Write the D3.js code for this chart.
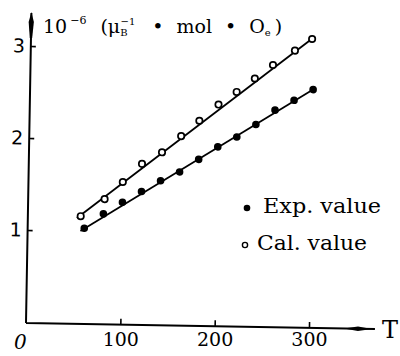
<!DOCTYPE html>
<html>
<head>
<meta charset="utf-8">
<script src="https://cdn.jsdelivr.net/npm/d3@7"></script>
<style>
  body { margin: 0; background: #fff; }
  svg { display: block; }
  .tick line { stroke: #000; stroke-width: 1.6; }
</style>
</head>
<body>
<script>
// values
var expTemps = [60, 80, 100, 120, 140, 160, 180, 200, 220, 240, 260, 280, 300];
var expValues = [1.03, 1.19, 1.32, 1.44, 1.56, 1.66, 1.80, 1.94, 2.05, 2.19, 2.35, 2.46, 2.58];
var calTemps = [56, 81, 100, 120, 141, 161, 180, 200, 219, 238, 257, 280, 298];
var calValues = [1.16, 1.35, 1.54, 1.74, 1.87, 2.05, 2.22, 2.40, 2.54, 2.69, 2.84, 3.00, 3.13];
// straight lines drawn through each set
var expFitTemps = [56, 303];
var expFitValues = [1.00, 2.60];
var calFitTemps = [52, 300];
var calFitValues = [1.14, 3.15];
var xTicks = [100, 200, 300];
var yTicks = [1, 2, 3];
var legendLabels = ["Exp. value", "Cal. value"];

var margin = {top: 46, left: 26}
  , width = 283
  , height = 277;

var svg = d3.select("body").append("svg")
    .attr("width", 400)
    .attr("height", 356);

// the scan is tilted a little, so the plot group is turned about the origin
var g = svg.append("g")
    .attr("transform", "translate(" + margin.left + "," + margin.top + ") rotate(1,0," + height + ")");

var xScale = d3.scaleLinear()
    .domain([0, 300])
    .range([0, width]);

var yScale = d3.scaleLinear()
    .domain([0, 3])
    .range([height - 1, 0]);

var serif = "'DejaVu Serif', serif";

// x axis
var xAxis = g.append("g")
    .attr("transform", "translate(0," + height + ")")
    .call(d3.axisBottom(xScale).tickValues(xTicks).tickSizeInner(-6).tickSizeOuter(0).tickPadding(9));
xAxis.select(".domain").remove();
xAxis.selectAll("text")
    .attr("transform", function(d) { return "rotate(-1," + 0 + ",0) translate(0," + (-d * 0.016) + ")"; })
    .style("font-family", serif)
    .style("font-size", "19px")
    .attr("fill", "#000");

// y axis
var yAxis = g.append("g")
    .call(d3.axisLeft(yScale).tickValues(yTicks).tickFormat(d3.format("d")).tickSizeInner(-5).tickSizeOuter(0).tickPadding(6));
yAxis.select(".domain").remove();
yAxis.selectAll("text")
    .style("font-family", "'DejaVu Sans', sans-serif")
    .style("font-size", "19px")
    .attr("fill", "#000");

// axis lines with their spindle arrows
g.append("path")
    .attr("d", "M0," + height + "H349M0," + height + "V-33")
    .attr("fill", "none")
    .attr("stroke", "#000")
    .attr("stroke-width", 2);
g.append("path")
    .attr("d", "M318," + height + "L332," + (height - 2.2) + "L346," + height + "L332," + (height + 2.2) + "Z")
    .attr("fill", "#000");
g.append("path")
    .attr("d", "M0,-34L2.6,-24L1.2,-8L-1.2,-8L-2.6,-24Z")
    .attr("fill", "#000");

var line = d3.line()
    .x(function(d) { return xScale(d[0]); })
    .y(function(d) { return yScale(d[1]); });

g.append("path")
    .datum(d3.zip(calFitTemps, calFitValues))
    .attr("d", line)
    .attr("fill", "none")
    .attr("stroke", "#000")
    .attr("stroke-width", 1.8);

g.append("path")
    .datum(d3.zip(expFitTemps, expFitValues))
    .attr("d", line)
    .attr("fill", "none")
    .attr("stroke", "#000")
    .attr("stroke-width", 1.8);

g.selectAll(".cal")
    .data(d3.zip(calTemps, calValues))
    .enter()
    .append("circle")
    .attr("class", "cal")
    .attr("cx", function(d) { return xScale(d[0]); })
    .attr("cy", function(d) { return yScale(d[1]); })
    .attr("r", 3.2)
    .attr("fill", "#fff")
    .attr("stroke", "#000")
    .attr("stroke-width", 1.7);

g.selectAll(".exp")
    .data(d3.zip(expTemps, expValues))
    .enter()
    .append("circle")
    .attr("class", "exp")
    .attr("cx", function(d) { return xScale(d[0]); })
    .attr("cy", function(d) { return yScale(d[1]); })
    .attr("r", 3.8)
    .attr("fill", "#000");

// free texts, placed on the page
svg.append("text")
    .attr("x", 14)
    .attr("y", 349)
    .style("font-family", serif)
    .style("font-size", "20px")
    .style("font-style", "italic")
    .text("0");

svg.append("text")
    .attr("x", 382)
    .attr("y", 338)
    .style("font-family", serif)
    .style("font-size", "24px")
    .text("T");

var title = svg.append("text")
    .attr("x", 43)
    .attr("y", 33)
    .style("font-family", serif)
    .style("font-size", "19px");
title.append("tspan").text("10");
title.append("tspan").attr("dx", 3).attr("dy", -9).style("font-size", "11px").text("\u22126");
title.append("tspan").attr("dx", 14).attr("dy", 9).text("(\u03bc");
title.append("tspan").attr("dy", 3).style("font-size", "10px").text("B");
title.append("tspan").attr("dx", -7).attr("dy", -11).style("font-size", "10px").text("\u22121");
title.append("tspan").attr("dx", 17).attr("dy", 8).text("\u2022");
title.append("tspan").attr("dx", 13).text("mol");
title.append("tspan").attr("dx", 13).text("\u2022");
title.append("tspan").attr("dx", 13).text("O");
title.append("tspan").attr("dy", 3).style("font-size", "10px").text("e");
title.append("tspan").attr("dx", 4).attr("dy", -3).text(")");

// legend
var legend = svg.selectAll(".legend")
    .data(legendLabels)
    .enter()
    .append("g")
    .attr("class", "legend")
    .attr("transform", function(d, i) { return "translate(0," + (i * 37) + ")"; });

legend.append("circle")
    .attr("cx", function(d, i) { return i == 0 ? 247 : 245; })
    .attr("cy", 208)
    .attr("r", function(d, i) { return i == 0 ? 3.3 : 2.6; })
    .attr("fill", function(d, i) { return i == 0 ? "#000" : "#fff"; })
    .attr("stroke", "#000")
    .attr("stroke-width", function(d, i) { return i == 0 ? 0 : 1.4; });

legend.append("text")
    .attr("x", function(d, i) { return i == 0 ? 263 : 257; })
    .attr("y", 213)
    .attr("textLength", function(d, i) { return i == 0 ? 118 : 110; })
    .attr("lengthAdjust", "spacingAndGlyphs")
    .style("font-family", serif)
    .style("font-size", "20px")
    .text(function(d) { return d; });
</script>
</body>
</html>
